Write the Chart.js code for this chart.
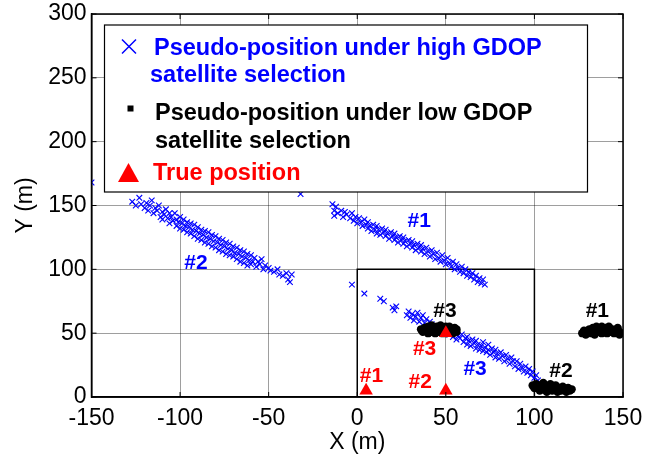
<!DOCTYPE html>
<html>
<head>
<meta charset="utf-8">
<script src="https://cdn.jsdelivr.net/npm/chart.js@4/dist/chart.umd.min.js"></script>
<style>
  html, body { margin: 0; padding: 0; background: #fff; }
  #wrap { width: 645px; height: 461px; position: relative; }
</style>
</head>
<body>
<div id="wrap"><canvas id="gdop"></canvas></div>
<script>
const blue = "#0000ff";
const red = "#ff0000";
const gridGray = "rgba(0,0,0,0.38)";
const fontFamily = '"Liberation Sans", Arial, sans-serif';

// tick labels
const xTicks = [-150, -100, -50, 0, 50, 100, 150];
const yTicks = [0, 50, 100, 150, 200, 250, 300];

// high GDOP pseudo-positions (blue crosses)
const highGdop2 = [
  [-150, 168], [-127, 153], [-125, 150], [-123, 156], [-122, 151], [-120, 148], [-119, 152],
  [-118, 146], [-117, 150], [-116, 154], [-115, 144], [-114, 148], [-113, 146], [-112, 150],
  [-111, 141], [-110, 145], [-110, 139], [-109, 143], [-108, 147], [-107, 140], [-106, 144],
  [-106, 136], [-105, 141], [-104, 138], [-103, 144], [-102, 134], [-102, 139], [-101, 137],
  [-100, 141], [-100, 132], [-99, 136], [-98, 139], [-98, 131], [-97, 134], [-96, 137],
  [-96, 129], [-95, 133], [-94, 136], [-94, 128], [-93, 131], [-92, 135], [-92, 126],
  [-91, 130], [-90, 133], [-90, 124], [-89, 128], [-88, 131], [-88, 123], [-87, 127],
  [-86, 130], [-86, 121], [-85, 125], [-84, 129], [-84, 120], [-83, 124], [-82, 127],
  [-82, 118], [-81, 122], [-80, 126], [-80, 117], [-79, 121], [-78, 124], [-78, 115],
  [-77, 119], [-76, 123], [-76, 114], [-75, 118], [-74, 121], [-74, 112], [-73, 116],
  [-72, 120], [-72, 111], [-71, 115], [-70, 118], [-70, 110], [-69, 113], [-68, 117],
  [-68, 108], [-67, 112], [-66, 115], [-66, 106], [-65, 110], [-64, 114], [-64, 105],
  [-63, 109], [-62, 112], [-62, 103], [-61, 107], [-60, 111], [-60, 104], [-59, 106],
  [-58, 109], [-57, 102], [-56, 106], [-55, 104], [-54, 108], [-53, 100], [-52, 103],
  [-50, 101], [-49, 99], [-47, 98], [-45, 100], [-44, 96], [-42, 95], [-40, 97],
  [-39, 92], [-38, 90], [-37, 96]
];
const highGdop1 = [
  [-32, 159], [-14, 151], [-13, 146], [-13, 142], [-12, 149], [-11, 144], [-9, 146], [-8, 141],
  [-7, 145], [-6, 143], [-4, 140], [-3, 144], [-2, 138], [-1, 141], [0, 136], [1, 140],
  [2, 137], [3, 134], [4, 139], [5, 135], [6, 132], [6, 137], [7, 134], [8, 130], [9, 135],
  [10, 131], [11, 128], [11, 134], [12, 131], [13, 127], [14, 132], [15, 129], [16, 126],
  [16, 131], [17, 128], [18, 124], [19, 129], [20, 126], [21, 123], [21, 128], [22, 125],
  [23, 121], [24, 126], [25, 123], [26, 120], [26, 125], [27, 122], [28, 118], [29, 123],
  [30, 120], [31, 117], [31, 122], [32, 119], [33, 115], [34, 120], [35, 117], [36, 114],
  [36, 119], [37, 116], [38, 112], [39, 117], [40, 114], [41, 110], [42, 115], [43, 112],
  [44, 108], [45, 113], [46, 109], [47, 106], [48, 111], [49, 107], [50, 104], [51, 109],
  [52, 105], [53, 102], [54, 106], [55, 100], [56, 104], [57, 101], [58, 98], [59, 102],
  [60, 97], [61, 100], [62, 95], [63, 98], [64, 94], [65, 97], [66, 92], [67, 95], [68, 90],
  [69, 93], [70, 89], [71, 92], [72, 88]
];
const highGdop3 = [
  [-3, 88], [4, 81], [13, 77], [15, 75], [20, 70], [21, 68], [22, 71], [28, 64], [29, 67],
  [30, 62], [31, 65], [32, 60], [33, 63], [34, 66], [35, 59], [36, 62], [37, 64], [38, 58],
  [39, 61], [40, 55], [41, 59], [42, 57], [44, 54], [46, 55], [48, 52], [52, 49], [54, 47],
  [55, 51], [56, 45], [57, 48], [58, 46], [59, 49], [60, 43], [61, 46], [62, 41], [62, 47],
  [63, 44], [64, 40], [65, 45], [66, 42], [67, 38], [67, 44], [68, 41], [69, 37], [70, 40],
  [71, 43], [71, 36], [72, 39], [73, 35], [74, 41], [74, 37], [75, 33], [76, 38], [77, 35],
  [78, 31], [78, 37], [79, 34], [80, 30], [81, 35], [82, 32], [83, 28], [84, 33], [85, 30],
  [86, 26], [87, 31], [88, 28], [89, 24], [90, 28], [91, 22], [92, 26], [93, 23], [94, 20],
  [95, 24], [96, 19], [97, 22], [98, 17], [99, 20], [100, 15], [101, 17], [102, 13]
];

// low GDOP pseudo-positions (black dots)
const lowGdop1 = [
  [127, 50], [128, 52], [129, 49], [130, 51], [131, 53], [132, 50], [133, 54], [134, 52],
  [134, 49], [135, 55], [136, 51], [137, 53], [138, 50], [138, 55], [139, 52], [140, 54],
  [141, 50], [142, 52], [142, 55], [143, 51], [144, 53], [145, 50], [146, 52], [147, 54],
  [148, 51], [148, 49]
];
const lowGdop2 = [
  [99, 9], [100, 7], [101, 10], [102, 8], [103, 5], [104, 9], [105, 6], [105, 11], [106, 8],
  [107, 4], [108, 7], [109, 10], [110, 5], [110, 8], [111, 6], [112, 9], [113, 4], [114, 7],
  [115, 5], [116, 8], [117, 6], [118, 4], [119, 7], [120, 5], [121, 6]
];
const lowGdop3 = [
  [36, 53], [37, 51], [38, 54], [39, 52], [40, 55], [40, 50], [41, 53], [42, 51], [42, 56],
  [43, 54], [44, 50], [44, 52], [45, 55], [46, 51], [46, 53], [47, 56], [48, 50], [48, 54],
  [49, 52], [50, 55], [50, 50], [51, 53], [52, 51], [52, 55], [53, 53], [54, 50], [54, 52],
  [55, 54], [56, 51], [56, 53]
];

// true positions
const truePositions = [[5, 5], [50, 5], [50, 50]];

// the 100 m x 100 m reference square
const squareCorners = [[0, 0], [0, 100], [100, 100], [100, 0]];

// cluster labels, anchored in data units
const clusterLabels = [
  { text: "#2", x: -91, y: 105, color: blue },
  { text: "#1", x: 35, y: 137.5, color: blue },
  { text: "#3", x: 66.5, y: 22, color: blue },
  { text: "#3", x: 49.5, y: 67.5, color: "#000" },
  { text: "#1", x: 135.5, y: 67.5, color: "#000" },
  { text: "#2", x: 115, y: 20, color: "#000" },
  { text: "#3", x: 38, y: 37.5, color: red },
  { text: "#1", x: 8, y: 16.5, color: red },
  { text: "#2", x: 35.5, y: 11.5, color: red }
];

const toXY = (pts) => pts.map(([x, y]) => ({ x, y }));

const frameAndLegend = {
  id: "frameAndLegend",
  afterDraw(chart) {
    const { ctx, chartArea, scales } = chart;
    const { left, right, top, bottom } = chartArea;
    ctx.save();

    // box all round + inward ticks, matlab style
    ctx.strokeStyle = "#000";
    ctx.lineWidth = 1.5;
    ctx.strokeRect(left, top, right - left, bottom - top);
    ctx.lineWidth = 1;
    ctx.beginPath();
    xTicks.forEach((v) => {
      const px = scales.x.getPixelForValue(v);
      ctx.moveTo(px, bottom); ctx.lineTo(px, bottom - 5);
      ctx.moveTo(px, top); ctx.lineTo(px, top + 5);
    });
    yTicks.forEach((v) => {
      const py = scales.y.getPixelForValue(v);
      ctx.moveTo(left, py); ctx.lineTo(left + 5, py);
      ctx.moveTo(right, py); ctx.lineTo(right - 5, py);
    });
    ctx.stroke();

    // cluster labels
    ctx.font = "bold 21px " + fontFamily;
    ctx.textAlign = "center";
    ctx.textBaseline = "middle";
    clusterLabels.forEach((l) => {
      ctx.fillStyle = l.color;
      ctx.fillText(l.text, scales.x.getPixelForValue(l.x), scales.y.getPixelForValue(l.y));
    });

    // legend box
    const lx = 104.5, ly = 25, lw = 483, lh = 167;
    ctx.fillStyle = "#fff";
    ctx.fillRect(lx, ly, lw, lh);
    ctx.strokeStyle = "#000";
    ctx.lineWidth = 1.2;
    ctx.strokeRect(lx, ly, lw, lh);

    // legend markers
    ctx.strokeStyle = blue;
    ctx.lineWidth = 1.5;
    ctx.beginPath();
    ctx.moveTo(122, 39.5); ctx.lineTo(136, 53.5);
    ctx.moveTo(136, 39.5); ctx.lineTo(122, 53.5);
    ctx.stroke();
    ctx.fillStyle = "#000";
    ctx.fillRect(127.5, 105.5, 6, 6);
    ctx.fillStyle = red;
    ctx.beginPath();
    ctx.moveTo(118, 182); ctx.lineTo(139, 182); ctx.lineTo(128.5, 163);
    ctx.closePath();
    ctx.fill();

    // legend text
    ctx.font = "bold 23.5px " + fontFamily;
    ctx.textAlign = "left";
    ctx.textBaseline = "alphabetic";
    ctx.fillStyle = blue;
    ctx.fillText("Pseudo-position under high GDOP", 154, 55);
    ctx.fillText("satellite selection", 150, 81.5);
    ctx.fillStyle = "#000";
    ctx.fillText("Pseudo-position under low GDOP", 155, 120);
    ctx.fillText("satellite selection", 155, 148);
    ctx.fillStyle = red;
    ctx.fillText("True position", 153, 180);
    ctx.restore();
  }
};

const crossStyle = (data) => ({
  data: toXY(data),
  pointStyle: "crossRot",
  pointRadius: 4,
  pointBorderWidth: 1.1,
  borderColor: blue,
  backgroundColor: blue,
  order: 4
});
const dotStyle = (data) => ({
  data: toXY(data),
  pointStyle: "circle",
  pointRadius: 4.2,
  pointBorderWidth: 0,
  borderColor: "#000",
  backgroundColor: "#000",
  order: 3
});

new Chart(document.getElementById("gdop").getContext("2d"), {
  type: "scatter",
  data: {
    datasets: [
      {
        data: toXY(truePositions),
        pointStyle: "triangle",
        pointRadius: 7.8,
        pointBorderWidth: 0,
        backgroundColor: red,
        borderColor: red,
        order: 1
      },
      dotStyle(lowGdop1),
      dotStyle(lowGdop2),
      dotStyle(lowGdop3),
      crossStyle(highGdop1),
      crossStyle(highGdop2),
      crossStyle(highGdop3),
      {
        data: toXY(squareCorners),
        showLine: true,
        borderColor: "#000",
        borderWidth: 1.5,
        pointRadius: 0,
        fill: false,
        order: 6
      }
    ]
  },
  options: {
    responsive: true,
    maintainAspectRatio: false,
    animation: false,
    events: [],
    layout: { padding: { top: 14, right: 22, left: 0, bottom: 0 } },
    plugins: {
      legend: { display: false },
      tooltip: { enabled: false }
    },
    scales: {
      x: {
        type: "linear",
        min: -150,
        max: 150,
        afterBuildTicks: (scale) => { scale.ticks = xTicks.map((v) => ({ value: v })); },
        afterFit: (scale) => {
          scale.height = 64;
          scale.paddingLeft = 0;
          scale.paddingRight = 0;
        },
        grid: { color: gridGray, lineWidth: 1, drawTicks: false },
        border: { display: true, color: "#000", width: 1.5 },
        ticks: {
          color: "#000",
          padding: 8,
          font: { family: fontFamily, size: 23 }
        },
        title: {
          display: true,
          text: "X (m)",
          color: "#000",
          padding: { top: 0, bottom: 5 },
          font: { family: fontFamily, size: 23 }
        }
      },
      y: {
        type: "linear",
        min: 0,
        max: 300,
        afterBuildTicks: (scale) => { scale.ticks = yTicks.map((v) => ({ value: v })); },
        afterFit: (scale) => {
          scale.width = 91.5;
          scale.paddingTop = 0;
          scale.paddingBottom = 0;
        },
        grid: { color: gridGray, lineWidth: 1, drawTicks: false },
        border: { display: true, color: "#000", width: 1.5 },
        ticks: {
          color: "#000",
          padding: 5,
          font: { family: fontFamily, size: 23 }
        },
        title: {
          display: true,
          text: "Y (m)",
          color: "#000",
          padding: { top: 12, bottom: 0 },
          font: { family: fontFamily, size: 23 }
        }
      }
    }
  },
  plugins: [frameAndLegend]
});
</script>
</body>
</html>
